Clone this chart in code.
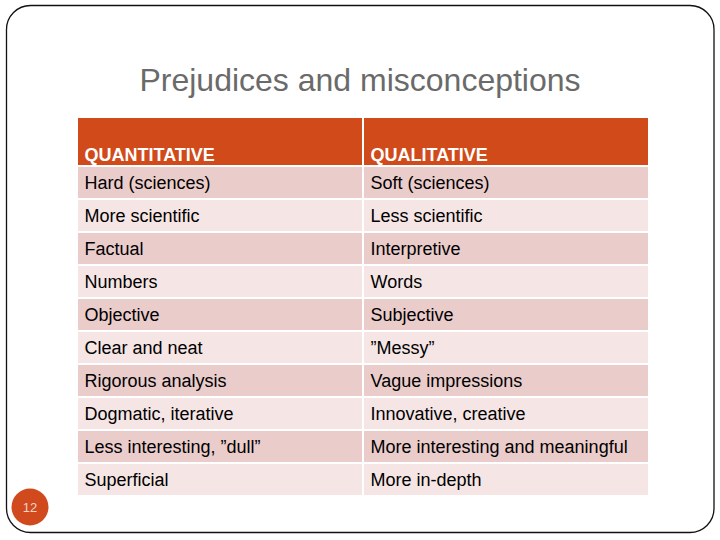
<!DOCTYPE html>
<html>
<head>
<meta charset="utf-8">
<script src="https://cdn.jsdelivr.net/npm/d3@7"></script>
<style>
  body { margin: 0; background: #fff; }
  svg { display: block; font-family: "Liberation Sans", Arial, sans-serif; }
</style>
</head>
<body>
<div id="chart"></div>
<script>
const title = "Prejudices and misconceptions";
const columns = ["QUANTITATIVE", "QUALITATIVE"];
const quantitative = [
  "Hard (sciences)",
  "More scientific",
  "Factual",
  "Numbers",
  "Objective",
  "Clear and neat",
  "Rigorous analysis",
  "Dogmatic, iterative",
  "Less interesting, \u201Ddull\u201D",
  "Superficial",
];
const qualitative = [
  "Soft (sciences)",
  "Less scientific",
  "Interpretive",
  "Words",
  "Subjective",
  "\u201DMessy\u201D",
  "Vague impressions",
  "Innovative, creative",
  "More interesting and meaningful",
  "More in-depth",
];
const slideNumber = "12";

const width = 720;
const height = 540;

const svg = d3
  .select("#chart")
  .append("svg")
  .attr("width", width)
  .attr("height", height);

// slide frame
svg
  .append("rect")
  .attr("x", 6.5)
  .attr("y", 5.5)
  .attr("width", 707.5)
  .attr("height", 527)
  .attr("rx", 24)
  .attr("ry", 24)
  .style("fill", "none")
  .style("stroke", "#111")
  .style("stroke-width", 1.3);

svg
  .append("text")
  .attr("x", 360)
  .attr("y", 91)
  .attr("text-anchor", "middle")
  .style("font-size", "32px")
  .style("fill", "#6a6a6a")
  .text(title);

const rowIdx = d3.range(quantitative.length);

const scaleX = d3
  .scaleBand()
  .domain(columns)
  .range([78, 648])
  .paddingInner(2 / 285);

const scaleY = d3
  .scaleBand()
  .domain(rowIdx)
  .range([167, 495])
  .paddingInner(2 / 33);

const rows = rowIdx.map((i) => [quantitative[i], qualitative[i]]);

// header
const header = svg.append("g");
header
  .selectAll("rect")
  .data(columns)
  .enter()
  .append("rect")
  .attr("x", (d) => scaleX(d))
  .attr("y", 118)
  .attr("width", scaleX.bandwidth())
  .attr("height", 47)
  .style("fill", "#d14a19");

header
  .selectAll("text")
  .data(columns)
  .enter()
  .append("text")
  .attr("x", (d) => scaleX(d) + 6.5)
  .attr("y", 160.5)
  .style("font-size", "18px")
  .style("font-weight", "bold")
  .style("fill", "#fff")
  .text((d) => d);

// body rows
const body = svg.append("g");
rows.forEach((row, i) => {
  const g = body.append("g");
  g.selectAll("rect")
    .data(row)
    .enter()
    .append("rect")
    .attr("x", (d, j) => scaleX(columns[j]))
    .attr("y", scaleY(i))
    .attr("width", scaleX.bandwidth())
    .attr("height", scaleY.bandwidth())
    .style("fill", i % 2 === 0 ? "#eacccb" : "#f5e6e5");

  g.selectAll("text")
    .data(row)
    .enter()
    .append("text")
    .attr("x", (d, j) => scaleX(columns[j]) + 6.5)
    .attr("y", scaleY(i) + 22)
    .style("font-size", "18px")
    .style("fill", "#000")
    .text((d) => d);
});

// slide number badge
svg
  .append("circle")
  .attr("cx", 30)
  .attr("cy", 507)
  .attr("r", 18.5)
  .style("fill", "#d04a1e");

svg
  .append("text")
  .attr("x", 30)
  .attr("y", 512)
  .attr("text-anchor", "middle")
  .style("font-size", "13px")
  .style("fill", "#f6d5c8")
  .text(slideNumber);
</script>
</body>
</html>
